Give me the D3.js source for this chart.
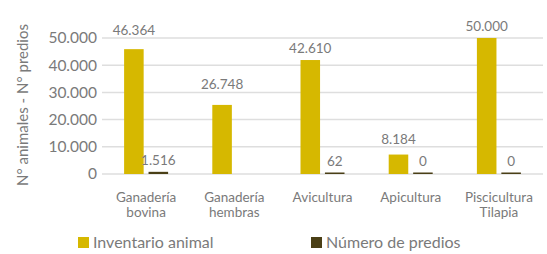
<!DOCTYPE html>
<html>
<head>
<meta charset="utf-8">
<script src="https://cdn.jsdelivr.net/npm/d3@7"></script>
<style>
    body { margin: 0; background: #fff; }
    svg text { font-family: Lato, "Noto Sans", sans-serif; fill: #7a7a7a; }
</style>
</head>
<body>
<div id="chart"></div>
<script>

// categorías (dos líneas por etiqueta)
var categories = [["Ganadería", "bovina"], ["Ganadería", "hembras"], ["Avicultura"], ["Apicultura"], ["Piscicultura", "Tilapia"]];
var seriesNames = ["Inventario animal", "Número de predios"];
var inventario = [45900, 25400, 41900, 7150, 50000];
var predios = [800, 0, 500, 0, 0];
var inventarioLabels = ["46.364", "26.748", "42.610", "8.184", "50.000"];
var prediosLabels = ["1.516", "", "62", "0", "0"];
var yTicks = [0, 10000, 20000, 30000, 40000, 50000];

var colors = ["#d6b800", "#4a3f16"];

var width = 547, height = 254;
var margin = {top: 38, right: 4, bottom: 80, left: 102};
var innerW = width - margin.left - margin.right,
    innerH = height - margin.top - margin.bottom;

var svg = d3.select("#chart").append("svg")
    .attr("width", width)
    .attr("height", height);

var g = svg.append("g")
    .attr("transform", "translate(" + margin.left + "," + margin.top + ")");

var x0 = d3.scaleBand().domain(d3.range(categories.length)).range([0, innerW]).paddingInner(0).paddingOuter(0);
var x1 = d3.scaleBand().domain([0, 1]).range([x0.bandwidth() / 2 - 22, x0.bandwidth() / 2 + 22]).paddingInner(0.2);
var y = d3.scaleLinear().domain([0, 50000]).range([innerH, 0]);

var fmt = function (v) { return d3.format(",")(v).replace(/,/g, "."); };

// rejilla
g.selectAll(".grid").data(yTicks).enter().append("line")
    .attr("x1", 0).attr("x2", innerW)
    .attr("y1", function (d) { return y(d); })
    .attr("y2", function (d) { return y(d); })
    .attr("stroke", "#dedede")
    .attr("stroke-width", 1.5);

var yAxis = d3.axisLeft(y).tickValues(yTicks).tickSize(0).tickPadding(5).tickFormat(fmt);
var yG = g.append("g").call(yAxis);
yG.select(".domain").remove();
yG.selectAll("text").style("font-size", "15.5px").attr("fill", null);

// barras
var rows = categories.map(function (c, i) {
    return [
        {s: 0, i: i, v: inventario[i], label: inventarioLabels[i]},
        {s: 1, i: i, v: predios[i], label: prediosLabels[i]}
    ];
});

var groups = g.selectAll(".grp").data(rows).enter().append("g")
    .attr("transform", function (d, i) { return "translate(" + x0(i) + ",0)"; });

var barTop = function (d) { return Math.min(y(d.v), innerH - 1.5); };

groups.selectAll("rect").data(function (d) { return d; }).enter()
    .filter(function (d) { return d.label !== ""; })
    .append("rect")
    .attr("x", function (d) { return x1(d.s); })
    .attr("width", x1.bandwidth())
    .attr("y", barTop)
    .attr("height", function (d) { return innerH - barTop(d); })
    .attr("fill", function (d) { return colors[d.s]; });

// etiqueta encima; si cruza una línea de rejilla, subirla
var labelY = function (d) {
    var b = barTop(d) - 7;
    yTicks.forEach(function (t) {
        var gy = y(t);
        if (gy > b - 10 && gy < b + 1) b = gy - 3;
    });
    return b;
};

groups.selectAll(".lbl").data(function (d) { return d; }).enter()
    .append("text")
    .attr("x", function (d) { return x1(d.s) + x1.bandwidth() / 2; })
    .attr("y", labelY)
    .attr("text-anchor", "middle")
    .style("font-size", "13.5px")
    .text(function (d) { return d.label; });

// etiquetas de categoría
var cat = g.selectAll(".cat").data(categories).enter().append("text")
    .attr("text-anchor", "middle")
    .attr("transform", function (d, i) { return "translate(" + (x0(i) + x0.bandwidth() / 2) + "," + (innerH + 28) + ")"; })
    .style("font-size", "13.5px");
cat.selectAll("tspan").data(function (d) { return d; }).enter().append("tspan")
    .attr("x", 0)
    .attr("dy", function (d, i) { return i === 0 ? 0 : 15; })
    .text(function (d) { return d; });

// título eje y
svg.append("text")
    .attr("transform", "translate(28," + (margin.top + innerH / 2 - 1) + ") rotate(-90)")
    .attr("text-anchor", "middle")
    .style("font-size", "15px")
    .text("N° animales - N° predios");

// leyenda
var legendX = [78, 311];
var legend = svg.selectAll(".leg").data(seriesNames).enter().append("g")
    .attr("transform", function (d, i) { return "translate(" + legendX[i] + ",237)"; });
legend.append("rect").attr("width", 11).attr("height", 11)
    .attr("fill", function (d, i) { return colors[i]; });
legend.append("text").attr("x", 15).attr("y", 11)
    .style("font-size", "16px")
    .text(function (d) { return d; });

</script>
</body>
</html>
